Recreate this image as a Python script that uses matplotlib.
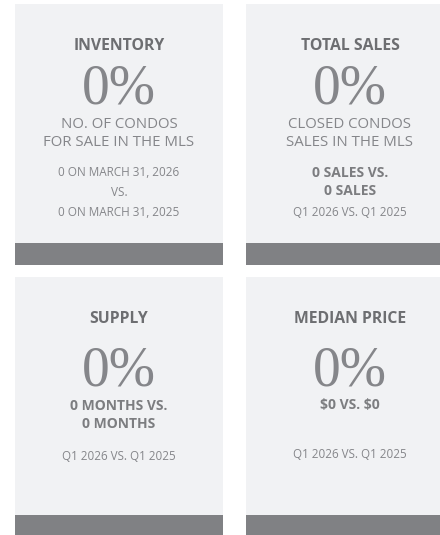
import matplotlib
matplotlib.use("Agg")
import matplotlib.pyplot as plt
from matplotlib.patches import Rectangle

# card contents, left-to-right, top-to-bottom
titles = ["INVENTORY", "TOTAL SALES", "SUPPLY", "MEDIAN PRICE"]
changes = ["0%", "0%", "0%", "0%"]
# (text, weight, size) lines under the big number
details = [
    [("NO. OF CONDOS", "normal", 10.8), ("FOR SALE IN THE MLS", "normal", 10.8),
     ("0 ON MARCH 31, 2026", "normal", 8.5), ("VS.", "normal", 8.5),
     ("0 ON MARCH 31, 2025", "normal", 8.5)],
    [("CLOSED CONDOS", "normal", 10.8), ("SALES IN THE MLS", "normal", 10.8),
     ("0 SALES VS.", "bold", 10), ("0 SALES", "bold", 10),
     ("Q1 2026 VS. Q1 2025", "normal", 8.4)],
    [("0 MONTHS VS.", "bold", 10), ("0 MONTHS", "bold", 10),
     ("Q1 2026 VS. Q1 2025", "normal", 8.4)],
    [(r"\$0 VS. \$0", "bold", 10), ("Q1 2026 VS. Q1 2025", "normal", 8.4)],
]
# vertical offsets of the detail lines from card top (px)
detail_y = [
    [120, 138, 169, 189, 209],
    [120, 138, 169, 187, 208],
    [129, 147, 180],
    [128, 178],
]

CARD_BG = "#f1f2f4"
BAR = "#808184"
TXT = "#85868a"
BOLD_TXT = "#7c7d80"
TITLE = "#6d6e71"

fig = plt.figure(figsize=(4.4, 5.35), dpi=100)
ax = fig.add_axes([0, 0, 1, 1])
ax.set_xlim(0, 440)
ax.set_ylim(535, 0)
ax.axis("off")

lefts = [15, 246, 15, 246]
tops = [4, 4, 277, 277]
W = 208
H = [261, 261, 260, 260]
title_dy = [42, 42, 42, 42]
num_dy = [86, 86, 95, 95]

for i in range(4):
    x0, y0 = lefts[i], tops[i]
    cx = x0 + W / 2
    ax.add_patch(Rectangle((x0, y0), W, H[i], color=CARD_BG, lw=0))
    ax.add_patch(Rectangle((x0, y0 + H[i] - 22), W, 22, color=BAR, lw=0))
    ax.text(cx, y0 + title_dy[i], titles[i], ha="center", va="center",
            family="Open Sans", weight="bold", fontsize=11.3, color=TITLE)
    ax.text(cx, y0 + num_dy[i], changes[i], ha="center", va="center",
            family="Liberation Serif", fontsize=40, color=TXT)
    for (txt, wt, sz), dy in zip(details[i], detail_y[i]):
        ax.text(cx, y0 + dy, txt, ha="center", va="center",
                family="Open Sans", weight=wt,
                fontsize=sz, color=BOLD_TXT if wt == "bold" else TXT)

fig.savefig("out.png", dpi=100, facecolor="white")
